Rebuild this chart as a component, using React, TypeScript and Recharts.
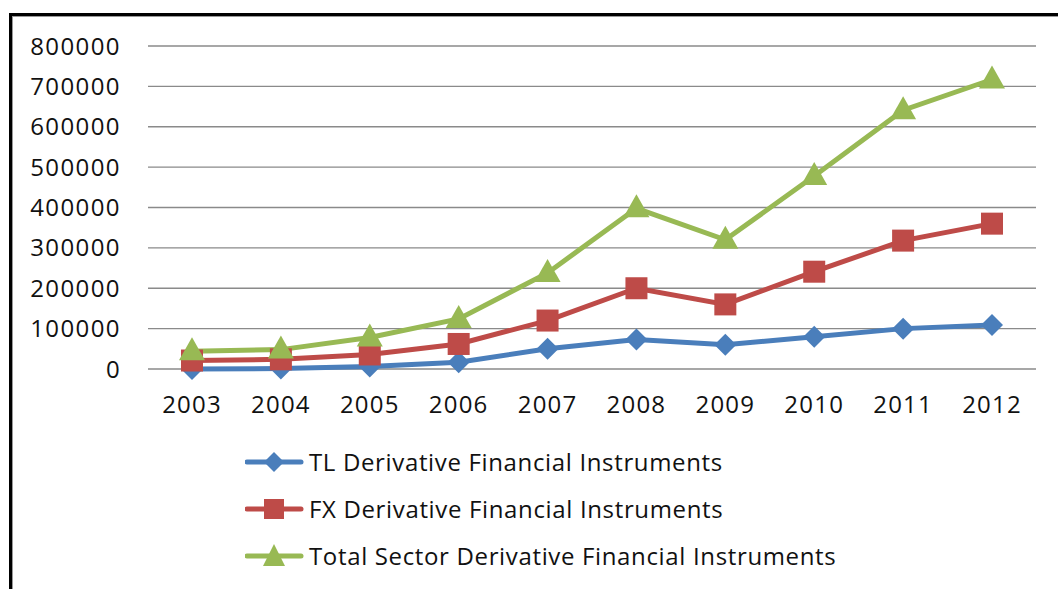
import { LineChart, Line, XAxis, YAxis, CartesianGrid } from "recharts";

const years = ["2003", "2004", "2005", "2006", "2007", "2008", "2009", "2010", "2011", "2012"];
const tlValues = [0, 1000, 6000, 17000, 50000, 73000, 60000, 80000, 100000, 109000];
const fxValues = [21000, 24000, 36000, 62000, 120000, 200000, 160000, 241000, 318000, 360000];
const totalValues = [44000, 48000, 78000, 124000, 238000, 398000, 320000, 478000, 641000, 717000];
const yTicks = [0, 100000, 200000, 300000, 400000, 500000, 600000, 700000, 800000];

const seriesNames = [
  "TL Derivative Financial Instruments",
  "FX Derivative Financial Instruments",
  "Total Sector Derivative Financial Instruments",
];

const BLUE = "#4a7ebb";
const RED = "#be4b48";
const GREEN = "#98b954";
const FONT = "'Open Sans', sans-serif";

const data = years.map((year, i) => ({
  year,
  tl: tlValues[i],
  fx: fxValues[i],
  total: totalValues[i],
}));

type DotProps = { cx?: number; cy?: number; index?: number };

const Diamond = ({ cx, cy, index }: DotProps) => {
  if (cx == null || cy == null) return null;
  const r = 11;
  return (
    <path
      key={`d-${index}`}
      d={`M${cx},${cy - r} L${cx + r},${cy} L${cx},${cy + r} L${cx - r},${cy} Z`}
      fill={BLUE}
    />
  );
};

const Square = ({ cx, cy, index }: DotProps) => {
  if (cx == null || cy == null) return null;
  const r = 11;
  return <rect key={`s-${index}`} x={cx - r} y={cy - r} width={r * 2} height={r * 2} fill={RED} />;
};

const Triangle = ({ cx, cy, index }: DotProps) => {
  if (cx == null || cy == null) return null;
  return (
    <path
      key={`t-${index}`}
      d={`M${cx},${cy - 14} L${cx + 13},${cy + 9} L${cx - 13},${cy + 9} Z`}
      fill={GREEN}
    />
  );
};

// legend drawn by hand so the marker sits on a short line, Excel style
const ChartLegend = () => {
  const colors = [BLUE, RED, GREEN];
  const markers = [
    <path key="m" d="M29,3 L39,13 L29,23 L19,13 Z" fill={BLUE} />,
    <rect key="m" x={19} y={3} width={20} height={20} fill={RED} />,
    <path key="m" d="M29,1 L40,23 L18,23 Z" fill={GREEN} />,
  ];
  return (
    <div style={{ fontFamily: FONT, fontSize: 24, color: "#111", lineHeight: 1, letterSpacing: 0.65 }}>
      {seriesNames.map((name, i) => (
        <div key={name} style={{ display: "flex", alignItems: "center", height: 47 }}>
          <svg width={60} height={26} style={{ marginRight: 4 }}>
            <line x1={2} y1={13} x2={56} y2={13} stroke={colors[i]} strokeWidth={5} strokeLinecap="round" />
            {markers[i]}
          </svg>
          <span>{name}</span>
        </div>
      ))}
    </div>
  );
};

export default function App() {
  return (
    <div
      style={{
        position: "fixed",
        left: 0,
        top: 0,
        width: 1058,
        height: 589,
        overflow: "hidden",
        background: "#fff",
      }}
    >
      <div
        style={{
          position: "absolute",
          left: 9,
          top: 13,
          width: 1100,
          height: 650,
          border: "3px solid #000",
          boxShadow: "inset 1px 1px 0 #999",
        }}
      />
      <div style={{ position: "absolute", left: 0, top: 0 }}>
        <LineChart
          width={1058}
          height={589}
          data={data}
          margin={{ top: 46, right: 22, bottom: 190, left: 10 }}
        >
          <CartesianGrid vertical={false} stroke="#8a8a8a" strokeWidth={1.3} />
          <XAxis
            dataKey="year"
            height={30}
            axisLine={false}
            tickLine={false}
            tickSize={0}
            tickMargin={27}
            padding={{ left: 44, right: 44 }}
            tick={{ fill: "#111", fontSize: 24, fontFamily: FONT, letterSpacing: 1.2 }}
            interval={0}
          />
          <YAxis
            width={138}
            domain={[0, 800000]}
            ticks={yTicks}
            axisLine={false}
            tickLine={false}
            tickSize={0}
            tickMargin={27}
            tick={{ fill: "#111", fontSize: 24, fontFamily: FONT, letterSpacing: 1.4 }}
            interval={0}
          />
          <Line
            dataKey="tl"
            name={seriesNames[0]}
            stroke={BLUE}
            strokeWidth={5}
            dot={Diamond}
            isAnimationActive={false}
          />
          <Line
            dataKey="fx"
            name={seriesNames[1]}
            stroke={RED}
            strokeWidth={5}
            dot={Square}
            isAnimationActive={false}
          />
          <Line
            dataKey="total"
            name={seriesNames[2]}
            stroke={GREEN}
            strokeWidth={5}
            dot={Triangle}
            isAnimationActive={false}
          />
        </LineChart>
      </div>
      <div style={{ position: "absolute", left: 245, top: 438 }}>
        <ChartLegend />
      </div>
    </div>
  );
}
